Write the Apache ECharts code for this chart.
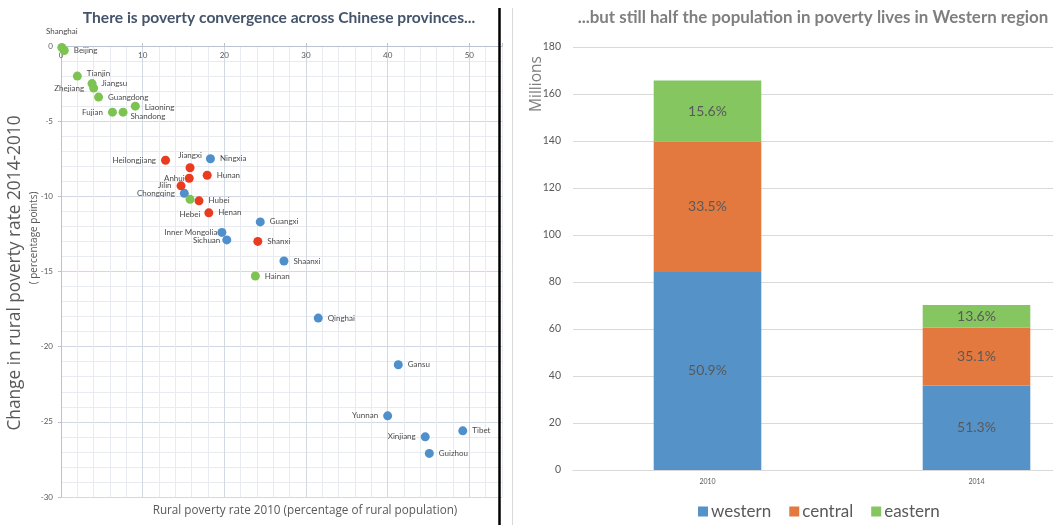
<!DOCTYPE html>
<html>
<head>
<meta charset="utf-8">
<script src="https://cdn.jsdelivr.net/npm/echarts@6/dist/echarts.min.js"></script>
<style>
  html, body { margin: 0; padding: 0; background: #ffffff; }
  #chart { width: 1053px; height: 525px; }
</style>
</head>
<body>
<div id="chart"></div>
<script>
// Provincial rural poverty: rate in 2010 vs. change 2010-2014 (percentage points)
const provinces = ['Shanghai', 'Beijing', 'Tianjin', 'Jiangsu', 'Zhejiang', 'Guangdong', 'Liaoning', 'Fujian', 'Shandong',
  'Heilongjiang', 'Jiangxi', 'Ningxia', 'Anhui', 'Hunan', 'Jilin', 'Chongqing', 'Hebei', 'Hubei', 'Henan',
  'Guangxi', 'Inner Mongolia', 'Sichuan', 'Shanxi', 'Shaanxi', 'Hainan', 'Qinghai', 'Gansu', 'Yunnan',
  'Tibet', 'Xinjiang', 'Guizhou'];
const povertyRate2010 = [0.1, 0.4, 2.0, 3.8, 4.0, 4.6, 9.1, 6.3, 7.6,
  12.8, 15.8, 18.3, 15.7, 17.9, 14.7, 15.1, 15.8, 16.9, 18.1,
  24.4, 19.7, 20.3, 24.1, 27.3, 23.8, 31.5, 41.3, 40.0,
  49.2, 44.6, 45.1];
const changeInRate = [-0.1, -0.3, -2.0, -2.5, -2.8, -3.4, -4.0, -4.4, -4.4,
  -7.6, -8.1, -7.5, -8.8, -8.6, -9.3, -9.8, -10.2, -10.3, -11.1,
  -11.7, -12.4, -12.9, -13.0, -14.3, -15.3, -18.1, -21.2, -24.6,
  -25.6, -26.0, -27.1];
const regionOf = ['eastern', 'eastern', 'eastern', 'eastern', 'eastern', 'eastern', 'eastern', 'eastern', 'eastern',
  'central', 'central', 'western', 'central', 'central', 'central', 'western', 'eastern', 'central', 'central',
  'western', 'western', 'western', 'central', 'western', 'eastern', 'western', 'western', 'western',
  'western', 'western', 'western'];

// Rural population in poverty by region (millions)
const years = ['2010', '2014'];
const western = [84.3, 36.0];
const central = [55.5, 24.63];
const eastern = [25.9, 9.54];

// Where each province's name sits relative to its dot
const labelPlacement = {
  'Shanghai': { position: 'top', distance: 8 },
  'Tianjin': { position: 'right', offset: [0, -3] },
  'Zhejiang': { position: 'left' },
  'Fujian': { position: 'left' },
  'Shandong': { position: 'right', offset: [-2, 4] },
  'Liaoning': { position: 'right', offset: [0, 1] },
  'Heilongjiang': { position: 'left' },
  'Jiangxi': { position: 'top', distance: 4 },
  'Anhui': { position: 'left', distance: 0 },
  'Jilin': { position: 'left' },
  'Chongqing': { position: 'left' },
  'Hebei': { position: 'bottom', distance: 7 },
  'Inner Mongolia': { position: 'left', distance: 0 },
  'Sichuan': { position: 'left', distance: 2 },
  'Yunnan': { position: 'left' },
  'Xinjiang': { position: 'left' }
};

const regionColor = { western: '#4f8fcc', central: '#ea3a20', eastern: '#7dc352' };
const barColor = { western: '#5592c8', central: '#e3793e', eastern: '#86c661' };
const textGrey = '#595959';

function scatterData(region) {
  const out = [];
  provinces.forEach((name, i) => {
    if (regionOf[i] !== region) return;
    const item = { name: name, value: [povertyRate2010[i], changeInRate[i]] };
    const p = labelPlacement[name];
    if (p) item.label = Object.assign({}, p);
    out.push(item);
  });
  return out;
}

const totals = years.map((_, i) => western[i] + central[i] + eastern[i]);
const shareLabel = p => (p.value / totals[p.dataIndex] * 100).toFixed(1) + '%';

const majorGrid = '#d2d9e2';
const minorGrid = '#e8ecf1';

const chart = echarts.init(document.getElementById('chart'), null, { renderer: 'canvas' });

const scatterSeries = ['western', 'central', 'eastern'].map(region => ({
  name: region + ' provinces',
  type: 'scatter',
  xAxisIndex: 0,
  yAxisIndex: 0,
  clip: false,
  symbolSize: 9,
  itemStyle: { color: regionColor[region], opacity: 1 },
  label: {
    show: true,
    position: 'right',
    distance: 5,
    formatter: '{b}',
    fontSize: 8,
    color: '#4a4a4a',
    fontFamily: 'Lato'
  },
  emphasis: { disabled: true },
  data: scatterData(region),
  z: 5
}));

const barSeries = [['western', western], ['central', central], ['eastern', eastern]].map(([name, vals]) => ({
  name: name,
  type: 'bar',
  stack: 'total',
  xAxisIndex: 2,
  yAxisIndex: 2,
  barWidth: '40%',
  itemStyle: { color: barColor[name] },
  label: {
    show: true,
    position: 'inside',
    formatter: shareLabel,
    fontSize: 14,
    color: '#595959',
    fontFamily: 'Lato'
  },
  emphasis: { disabled: true },
  data: vals
}));

chart.setOption({
  animation: false,
  textStyle: { fontFamily: 'Lato' },
  grid: [
    { left: 61, top: 46, width: 441, height: 451, outerBoundsMode: 'none' },
    { left: 573, top: 47, width: 538, height: 423, outerBoundsMode: 'none' }
  ],
  xAxis: [
    {
      gridIndex: 0, type: 'value', min: 0, max: 54, interval: 10, position: 'top',
      axisLine: { show: true, onZero: false, lineStyle: { color: '#b9c2ce', width: 1 } },
      axisTick: { show: true, length: 3, lineStyle: { color: '#b9c2ce' } },
      axisLabel: { inside: true, margin: 5, fontSize: 8, color: textGrey,
        formatter: v => (v % 10 === 0 ? String(v) : '') },
      splitLine: { show: false }
    },
    {
      gridIndex: 0, type: 'value', min: 0, max: 54, interval: 2, position: 'top',
      axisLine: { show: false }, axisTick: { show: false }, axisLabel: { show: false },
      splitLine: { show: true, lineStyle: { color: [majorGrid, minorGrid, minorGrid, minorGrid, minorGrid], width: 1 } }
    },
    {
      gridIndex: 1, type: 'category', data: years,
      axisLine: { show: true, lineStyle: { color: '#d9d9d9' } },
      axisTick: { show: false },
      axisLabel: { fontSize: 7, color: textGrey, margin: 8 }
    }
  ],
  yAxis: [
    {
      gridIndex: 0, type: 'value', min: -30, max: 0, interval: 5,
      axisLine: { show: true, onZero: false, lineStyle: { color: '#b9c2ce', width: 1 } },
      axisTick: { show: true, length: 3, lineStyle: { color: '#b9c2ce' } },
      axisLabel: { fontSize: 8, color: textGrey, margin: 8 },
      splitLine: { show: false }
    },
    {
      gridIndex: 0, type: 'value', min: -30, max: 0, interval: 1,
      axisLine: { show: false }, axisTick: { show: false }, axisLabel: { show: false },
      splitLine: { show: true, lineStyle: { color: [majorGrid, minorGrid, minorGrid, minorGrid, minorGrid], width: 1 } }
    },
    {
      gridIndex: 1, type: 'value', min: 0, max: 180, interval: 20,
      axisLine: { show: false }, axisTick: { show: false },
      axisLabel: { fontSize: 10.5, color: textGrey, margin: 12 },
      splitLine: { show: true, lineStyle: { color: '#d9d9d9', width: 1 } }
    }
  ],
  legend: {
    data: ['western', 'central', 'eastern'],
    left: 693, top: 498,
    icon: 'rect', itemWidth: 10, itemHeight: 10, itemGap: 18,
    textStyle: { fontSize: 17, color: textGrey, fontFamily: 'Lato', padding: [0, 0, 0, -2] }
  },
  graphic: [
    { type: 'text', x: 279, y: 18, z: 10,
      style: { text: 'There is poverty convergence across Chinese provinces...', fill: '#44546a',
        font: 'bold 15.6px Lato', align: 'center', verticalAlign: 'middle' } },
    { type: 'text', x: 813, y: 18, z: 10,
      style: { text: '...but still half the population in poverty lives in Western region', fill: '#7f7f7f',
        font: 'bold 16.9px Lato', align: 'center', verticalAlign: 'middle' } },
    { type: 'text', x: 15, y: 273, rotation: Math.PI / 2, z: 10,
      style: { text: 'Change in rural poverty rate 2014-2010', fill: textGrey,
        font: '17.3px "Open Sans"', align: 'center', verticalAlign: 'middle' } },
    { type: 'text', x: 34, y: 238, rotation: Math.PI / 2, z: 10,
      style: { text: '( percentage points)', fill: textGrey,
        font: '10px "Open Sans"', align: 'center', verticalAlign: 'middle' } },
    { type: 'text', x: 305, y: 511, z: 10,
      style: { text: 'Rural poverty rate 2010 (percentage of rural population)', fill: textGrey,
        font: '11.7px "Open Sans"', align: 'center', verticalAlign: 'middle' } },
    { type: 'text', x: 537, y: 84, rotation: Math.PI / 2, z: 10,
      style: { text: 'Millions', fill: '#7f7f7f',
        font: '15.5px "Open Sans"', align: 'center', verticalAlign: 'middle' } },
    { type: 'line', z: 20, shape: { x1: 499.5, y1: 8, x2: 499.5, y2: 525 },
      style: { stroke: '#000000', lineWidth: 2.5 } },
    { type: 'line', z: 20, shape: { x1: 512.5, y1: 8, x2: 512.5, y2: 525 },
      style: { stroke: '#d9d9d9', lineWidth: 1 } }
  ],
  series: scatterSeries.concat(barSeries)
});
</script>
</body>
</html>
